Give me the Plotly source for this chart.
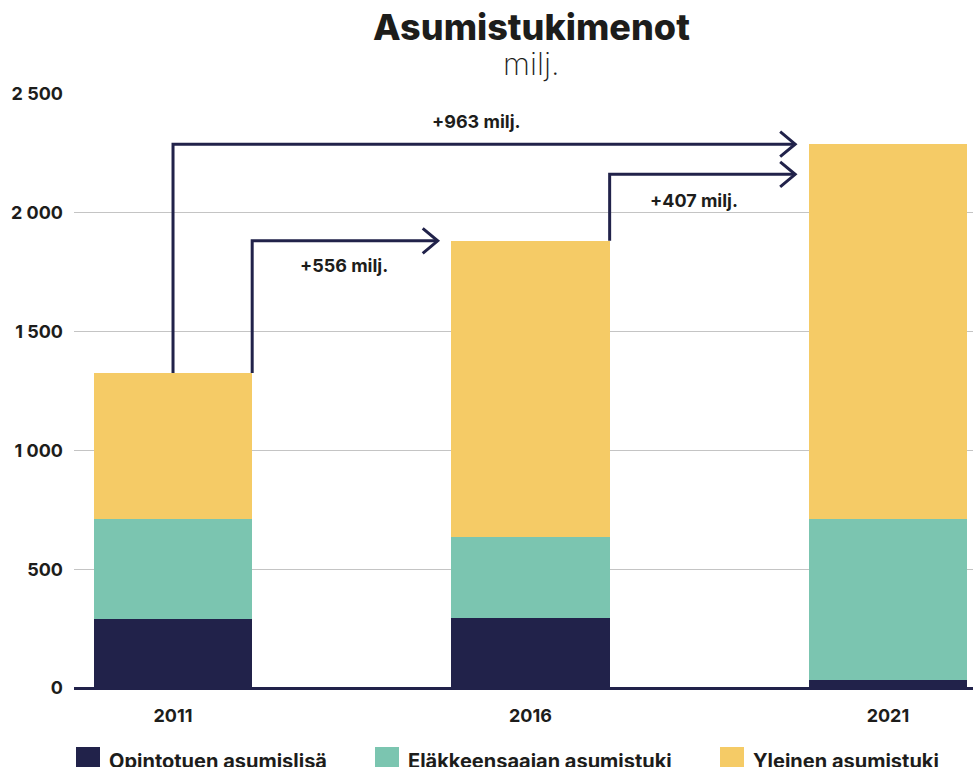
import plotly.graph_objects as go

# ---- data ----
years = ["2011", "2016", "2021"]
series_names = ["Opintotuen asumislisä", "Eläkkeensaajan asumistuki", "Yleinen asumistuki"]
opintotuen = [290, 295, 34]
elakkeensaajan = [421, 341, 677]
yleinen = [615, 1246, 1578]
y_tickvals = [0, 500, 1000, 1500, 2000, 2500]
y_ticktext = ["0", "500", "1 000", "1 500", "2 000", "2 500"]

# ---- style ----
NAVY = "#21224a"
TEAL = "#7bc5b0"
YELLOW = "#f5cb66"
TEXT = "#1d1d1b"
GRID = "#c4c4c4"
colors = [NAVY, TEAL, YELLOW]
FONT = "Inter"
BAR_W = 0.443
ARROW3_LEVEL = 2162
TIP_GAP = 0.038

idx = list(range(len(years)))
values = [opintotuen, elakkeensaajan, yleinen]
totals = [sum(v) for v in zip(*values)]

fig = go.Figure()
for name, vals, col in zip(series_names, values, colors):
    fig.add_bar(x=idx, y=vals, name=name, marker=dict(color=col, line=dict(width=0)),
                width=BAR_W, hoverinfo="skip")

half = BAR_W / 2
arrows = [
    (idx[0], totals[0], totals[2], 0, 2),
    (idx[0] + half, totals[0], totals[1], 0, 1),
    (idx[1] + half, totals[1], ARROW3_LEVEL, 1, 2),
]
shapes = []
for x0, y0, ylev, i, j in arrows:
    tip = idx[j] - half - TIP_GAP
    shapes.append(dict(type="path", xref="x", yref="y",
                       path=f"M {x0},{y0} L {x0},{ylev} L {tip},{ylev}",
                       line=dict(color=NAVY, width=3), layer="above"))
    shapes.append(dict(type="path", xref="x", yref="y", xsizemode="pixel", ysizemode="pixel",
                       xanchor=tip, yanchor=ylev, path="M -15,12.5 L 0,0 L -15,-12.5",
                       line=dict(color=NAVY, width=3), layer="above"))

annotations = []
label_pos = [(0.849, 2386, 0, 2), (0.479, 1780, 0, 1), (1.457, 2050, 1, 2)]
for lx, ly, i, j in label_pos:
    annotations.append(dict(x=lx, y=ly, xref="x", yref="y", showarrow=False,
                            text=f"+{totals[j] - totals[i]} milj.",
                            font=dict(family=FONT, size=18, color=TEXT, weight="bold")))

PW = 899.0
PH = 594.0


def py(pix):
    return (688 - pix) / PH


annotations.append(dict(x=0.5085, y=py(27), xref="paper", yref="paper", showarrow=False,
                        text="Asumistukimenot", yanchor="middle",
                        font=dict(family=FONT, size=36, color=TEXT, weight=800)))
annotations.append(dict(x=0.5085, y=py(64), xref="paper", yref="paper", showarrow=False,
                        text="milj.", yanchor="middle",
                        font=dict(family=FONT, size=31, color=TEXT, weight=200)))

leg_sq_x = [76, 375, 720]
leg_tx_x = [107, 406, 751]
for name, col, sx, tx in zip(series_names, colors, leg_sq_x, leg_tx_x):
    shapes.append(dict(type="rect", xref="paper", yref="paper",
                       x0=(sx - 74) / PW, x1=(sx + 24 - 74) / PW,
                       y0=py(747), y1=py(775),
                       fillcolor=col, line=dict(width=0)))
    annotations.append(dict(x=(tx - 74) / PW, y=py(761), xref="paper", yref="paper",
                            showarrow=False, xanchor="left", yanchor="middle", text=name,
                            font=dict(family=FONT, size=20, color=TEXT, weight="bold")))

fig.update_layout(
    width=973, height=767,
    margin=dict(l=74, r=0, t=94, b=79),
    barmode="stack",
    showlegend=False,
    plot_bgcolor="white", paper_bgcolor="white",
    shapes=shapes, annotations=annotations,
    hovermode=False,
)
fig.update_xaxes(type="linear", range=[-0.277, 2.238], tickvals=idx, ticktext=years,
                 showgrid=False, zeroline=False, showline=False, ticks="",
                 tickfont=dict(family=FONT, size=18, color=TEXT, weight="bold"),
                 ticklabelstandoff=15)
fig.update_yaxes(range=[0, 2500], tickvals=y_tickvals, ticktext=y_ticktext,
                 showgrid=True, gridcolor=GRID, gridwidth=1,
                 zeroline=True, zerolinecolor=NAVY, zerolinewidth=3, showline=False,
                 ticks="", tickfont=dict(family=FONT, size=18, color=TEXT, weight="bold"),
                 ticklabelstandoff=10)

fig.write_html("out.html", config={"displayModeBar": False},
               post_script="document.body.style.margin='0px';document.body.style.overflow='hidden';")
